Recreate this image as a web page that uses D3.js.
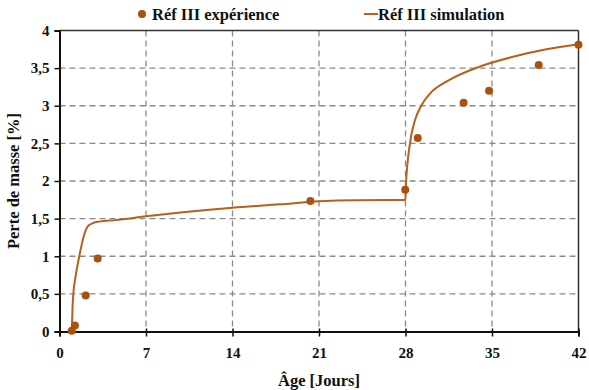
<!DOCTYPE html>
<html><head><meta charset="utf-8">
<script src="https://cdn.jsdelivr.net/npm/d3@7/dist/d3.min.js"></script>
<style>body{margin:0;background:#fff}svg{display:block}text{font-family:"Liberation Serif","Times New Roman",serif;font-weight:bold;fill:#111}</style>
</head><body><svg id="c" width="589" height="390"></svg>
<script>
const xTicks = [0, 7, 14, 21, 28, 35, 42];
const yTicks = [0, 0.5, 1, 1.5, 2, 2.5, 3, 3.5, 4];
const expDays = [0.99, 1.25, 2.12, 3.09, 20.3, 27.98, 28.99, 32.7, 34.76, 38.78, 42.0];
const expValues = [0.01, 0.08, 0.48, 0.97, 1.735, 1.885, 2.57, 3.04, 3.2, 3.54, 3.81];
const simDays = [1.0, 1.05, 1.12, 1.3, 1.6, 1.95, 2.3, 2.7, 3.2, 4.5, 7, 10, 14, 17.85, 21, 24, 28, 28.02, 28.36, 28.77, 29.3, 30, 31.3, 34, 36.7, 39.4, 42];
const simValues = [0, 0.3, 0.5, 0.73, 1.0, 1.26, 1.4, 1.44, 1.46, 1.48, 1.53, 1.585, 1.645, 1.69, 1.73, 1.745, 1.748, 1.9, 2.5, 2.81, 3.01, 3.165, 3.32, 3.52, 3.65, 3.75, 3.817];
const seriesNames = ["Réf III expérience", "Réf III simulation"];
const xTitle = "Âge [Jours]", yTitle = "Perte de masse [%]";

const L = 59.5, R = 578.5, T = 30.5, B = 331.5;
const ptColor = "#A9520D", lnColor = "#B5601B";
const svg = d3.select("#c");
const x = d3.scaleLinear().domain([0, 42]).range([L, R]);
const y = d3.scaleLinear().domain([0, 4]).range([B, T]);
const fmt = v => String(v).replace(".", ",");

// grid
svg.append("g").selectAll("line").data(xTicks.filter(d => d > 0 && d < 42)).join("line")
  .attr("x1", d => x(d)).attr("x2", d => x(d)).attr("y1", T).attr("y2", B)
  .attr("stroke", "#8a8a8a").attr("stroke-width", 1.3).attr("stroke-dasharray", "6,4");
svg.append("g").selectAll("line").data(yTicks.filter(d => d > 0 && d < 4)).join("line")
  .attr("x1", L).attr("x2", R).attr("y1", d => y(d)).attr("y2", d => y(d))
  .attr("stroke", "#8a8a8a").attr("stroke-width", 1.3).attr("stroke-dasharray", "6,4");

// border
svg.append("line").attr("x1", L).attr("x2", R).attr("y1", T).attr("y2", T).attr("stroke", "#333").attr("stroke-width", 1.5);
svg.append("line").attr("x1", R).attr("x2", R).attr("y1", T).attr("y2", B).attr("stroke", "#333").attr("stroke-width", 1.5);

// axes
const xAxis = svg.append("g").attr("transform", `translate(0,${B})`)
  .call(d3.axisBottom(x).tickValues(xTicks).tickSize(5).tickPadding(11).tickFormat(d => d));
const yAxis = svg.append("g").attr("transform", `translate(${L},0)`)
  .call(d3.axisLeft(y).tickValues(yTicks).tickSize(5).tickPadding(5).tickFormat(fmt));
[xAxis, yAxis].forEach(a => {
  a.attr("font-family", null);
  a.select(".domain").attr("stroke", "#111").attr("stroke-width", 2);
  a.selectAll(".tick line").attr("stroke", "#111").attr("stroke-width", 1.5);
  a.selectAll("text").attr("font-size", 15).attr("fill", "#111");
});
xAxis.selectAll(".tick line").attr("y1", -3).attr("y2", 5);

// simulation line
const line = d3.line().x((d, i) => x(simDays[i])).y((d, i) => y(simValues[i])).curve(d3.curveMonotoneX);
svg.append("path").datum(simValues).attr("d", line).attr("fill", "none").attr("stroke", lnColor).attr("stroke-width", 2);

// experimental points
svg.append("g").selectAll("circle").data(expValues).join("circle")
  .attr("cx", (d, i) => x(expDays[i])).attr("cy", d => y(d)).attr("r", 4).attr("fill", ptColor);

// titles
svg.append("text").attr("x", (L + R) / 2).attr("y", 386).attr("text-anchor", "middle").attr("font-size", 16.5).text(xTitle);
svg.append("text").attr("transform", `translate(19,${(T + B) / 2}) rotate(-90)`).attr("text-anchor", "middle").attr("font-size", 16.5).text(yTitle);

// legend
svg.append("circle").attr("cx", 142).attr("cy", 14).attr("r", 4).attr("fill", ptColor);
svg.append("text").attr("x", 152).attr("y", 19.5).attr("font-size", 16.5).text(seriesNames[0]);
svg.append("line").attr("x1", 364).attr("x2", 378).attr("y1", 14).attr("y2", 14).attr("stroke", lnColor).attr("stroke-width", 2);
svg.append("text").attr("x", 378).attr("y", 19.5).attr("font-size", 16.5).text(seriesNames[1]);
</script></body></html>
